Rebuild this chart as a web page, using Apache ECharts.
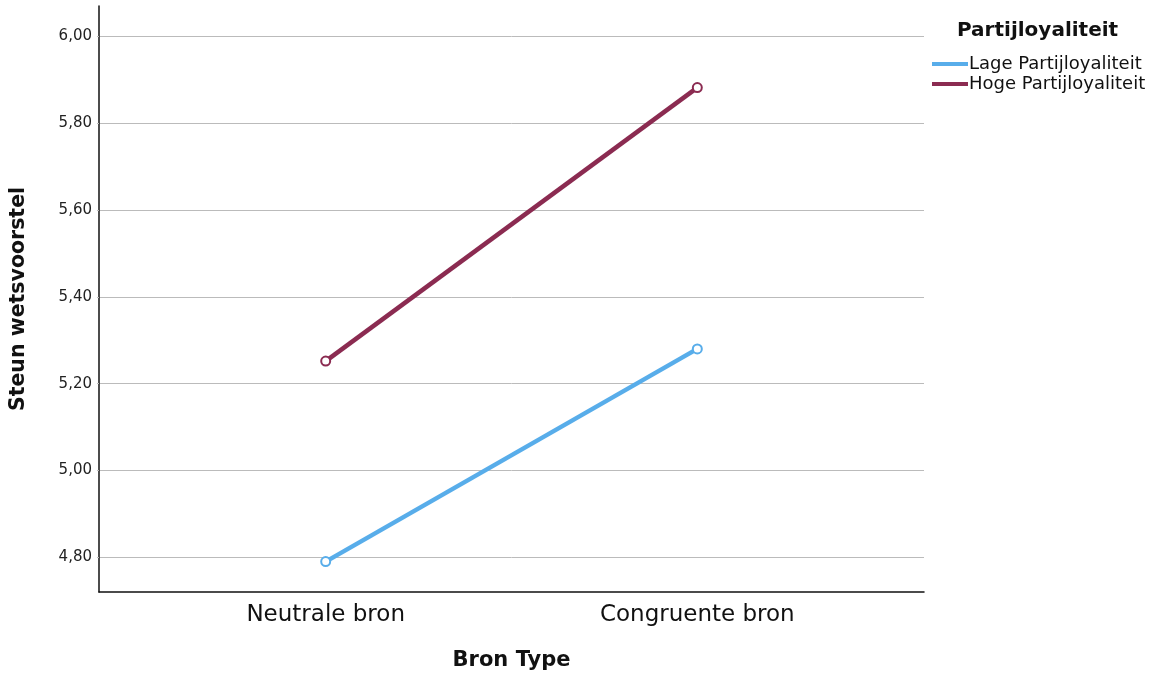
<!DOCTYPE html>
<html>
<head>
<meta charset="utf-8">
<script src="https://cdn.jsdelivr.net/npm/echarts@6/dist/echarts.min.js"></script>
<style>html,body{margin:0;padding:0;background:#fff}#c{width:1157px;height:676px}</style>
</head>
<body>
<div id="c"></div>
<script>
const categories = ['Neutrale bron', 'Congruente bron'];
const seriesNames = ['Lage Partijloyaliteit', 'Hoge Partijloyaliteit'];
const lageValues = [4.79, 5.28];
const hogeValues = [5.252, 5.882];
const yTicks = [4.8, 5.0, 5.2, 5.4, 5.6, 5.8, 6.0];
const FONT = 'DejaVu Sans';
const BLUE = '#58adea';
const MAROON = '#8b2b51';

const chart = echarts.init(document.getElementById('c'));
const toData = vals => vals.map((v, i) => [i, v]);
chart.setOption({
  animation: false,
  textStyle: { fontFamily: FONT },
  title: {
    text: 'Partijloyaliteit', left: 952, top: 16,
    textStyle: { fontFamily: FONT, fontSize: 20, fontWeight: 'bold', color: '#111' }
  },
  legend: {
    orient: 'vertical', left: 927, top: 50, itemWidth: 36, itemHeight: 4, itemGap: 2,
    icon: 'rect',
    itemStyle: { borderWidth: 0 },
    textStyle: { fontFamily: FONT, fontSize: 18, color: '#111', padding: [0, 0, 0, -4] },
    data: seriesNames
  },
  grid: { left: 97, right: 233, top: 6, bottom: 78, containLabel: false },
  xAxis: {
    type: 'value', min: -0.61, max: 1.61,
    name: 'Bron Type', nameLocation: 'middle', nameGap: 58,
    nameTextStyle: { fontFamily: FONT, fontSize: 21, fontWeight: 'bold', color: '#111' },
    axisLine: { onZero: false, lineStyle: { color: '#111', width: 1.5 } },
    axisTick: { show: false },
    splitLine: { show: false },
    axisLabel: {
      customValues: [0, 1], margin: 12,
      fontFamily: FONT, fontSize: 23, color: '#111',
      formatter: v => categories[Math.round(v)] || ''
    }
  },
  yAxis: {
    type: 'value', min: 4.72, max: 6.07,
    name: 'Steun wetsvoorstel', nameLocation: 'middle', nameGap: 70, nameRotate: 90,
    nameTextStyle: { fontFamily: FONT, fontSize: 20.5, fontWeight: 'bold', color: '#111' },
    axisLine: { show: true, onZero: false, lineStyle: { color: '#111', width: 1.5 } },
    axisTick: { show: true, customValues: yTicks, length: 2, lineStyle: { color: '#bbb' } },
    splitLine: { show: true, lineStyle: { color: '#bbb', width: 1 } },
    axisLabel: {
      customValues: yTicks, margin: 7,
      fontFamily: FONT, fontSize: 15, color: '#222',
      formatter: v => v.toFixed(2).replace('.', ',')
    }
  },
  series: [
    {
      name: seriesNames[0], type: 'line', data: toData(lageValues),
      color: BLUE,
      lineStyle: { width: 4.5, color: BLUE },
      symbol: 'emptyCircle', symbolSize: 9,
      itemStyle: { color: BLUE, borderColor: BLUE, borderWidth: 1.3 }
    },
    {
      name: seriesNames[1], type: 'line', data: toData(hogeValues),
      color: MAROON,
      lineStyle: { width: 4.5, color: MAROON },
      symbol: 'emptyCircle', symbolSize: 9,
      itemStyle: { color: MAROON, borderColor: MAROON, borderWidth: 1.3 }
    }
  ]
});
</script>
</body>
</html>
